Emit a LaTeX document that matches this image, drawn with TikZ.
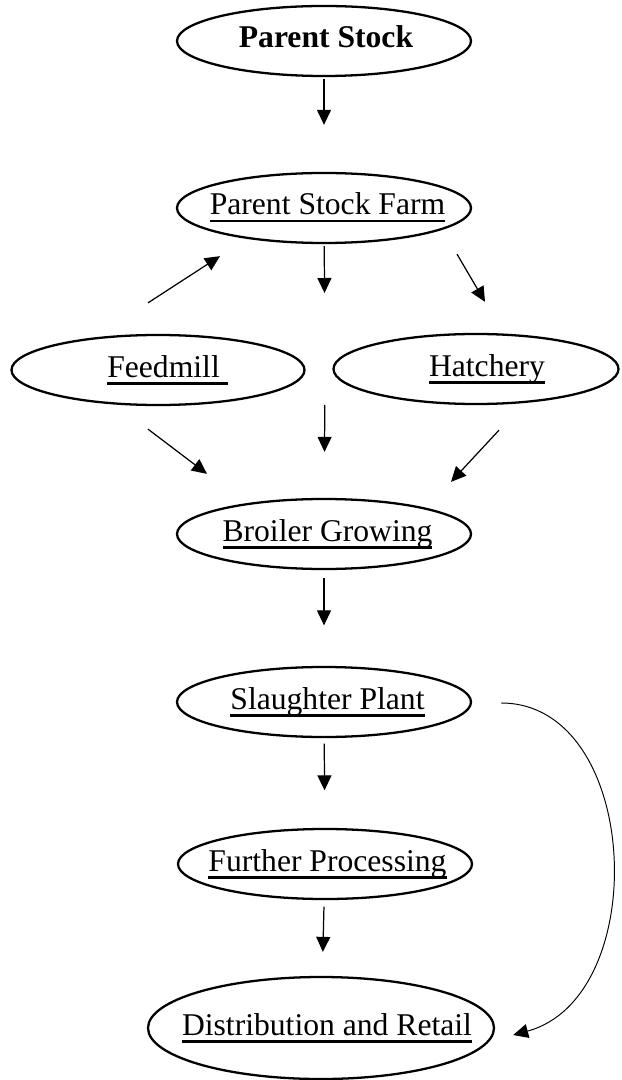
\documentclass[tikz,border=0pt]{standalone}
\usepackage{fontspec}
\setmainfont{Liberation Serif}
\usetikzlibrary{shapes.geometric,arrows.meta}
\tikzset{
  oval/.style={draw, ellipse, line width=1.3pt, inner sep=0pt, minimum width=58.8mm, minimum height=14mm, text height=3.6mm, text depth=0.8mm, font=\fontsize{18}{22}\selectfont},
  arr/.style={-{Triangle[length=3mm,width=2.8mm]}, line width=0.7pt}
}
\newcommand{\ultext}[2][1.4mm]{\setbox0\hbox{#2}\makebox[0pt]{\hspace*{#1}\copy0\llap{\rule[-1.5mm]{\wd0}{0.5mm}}}}
\begin{document}
\begin{tikzpicture}[x = 0.2mm, y = -0.2mm]
\useasboundingbox (0,0) rectangle (621,1080);
\node [oval] (ps) at (324,41) {\makebox[0pt]{\hspace*{0.8mm}\bfseries Parent Stock}};
\node [oval] (psf) at (324,208) {\ultext{Parent Stock Farm}};
\node [oval, minimum width = 58.6mm] (fm) at (158,370) {\ultext[3.8mm]{Feedmill\ }};
\node [oval, minimum width = 57mm] (hat) at (476,369) {\ultext[4.4mm]{Hatchery}};
\node [oval] (bg) at (324,534) {\ultext{Broiler Growing}};
\node [oval] (sp) at (324,702) {\ultext{Slaughter Plant}};
\node [oval] (fp) at (325,864) {\ultext[1mm]{Further Processing}};
\node [oval, minimum width = 69.2mm, minimum height = 20.4mm] (dr) at (321,1028) {\ultext[2.4mm]{Distribution and Retail}};
\coordinate (gap) at (325,370);
% straight down
\draw [arr, shorten <= 0.4mm, shorten >= 9.4mm] (ps) -- (psf);
\draw [arr, shorten <= 0.4mm, shorten >= 15.4mm] (psf) -- (gap);
\draw [arr, shorten <= 7mm, shorten >= 9.2mm] (gap) -- (bg);
\draw [arr, shorten <= 1.6mm, shorten >= 8.1mm] (bg) -- (sp);
\draw [arr, shorten <= 1.1mm, shorten >= 7.5mm] (sp) -- (fp);
\draw [arr, shorten <= 1.3mm, shorten >= 4.8mm] (fp) -- (dr);
% slanted
\draw [arr] ([shift={(-10,-31)}]fm.north) -- ([shift={(-104,12)}]psf.south);
\draw [arr] ([shift={(133,10)}]psf.south) -- ([shift={(9,-31)}]hat.north);
\draw [arr] ([shift={(-10,23)}]fm.south) -- ([shift={(-117,-24)}]bg.north);
\draw [arr] ([shift={(23,25)}]hat.south) -- ([shift={(127,-16)}]bg.north);
% bypass
\draw [arr, line width = 0.55pt] ([shift={(29,1)}]sp.east) .. controls +(140,0) and +(140,-38) .. ([shift={(18,7)}]dr.east);
\end{tikzpicture}
\end{document}
